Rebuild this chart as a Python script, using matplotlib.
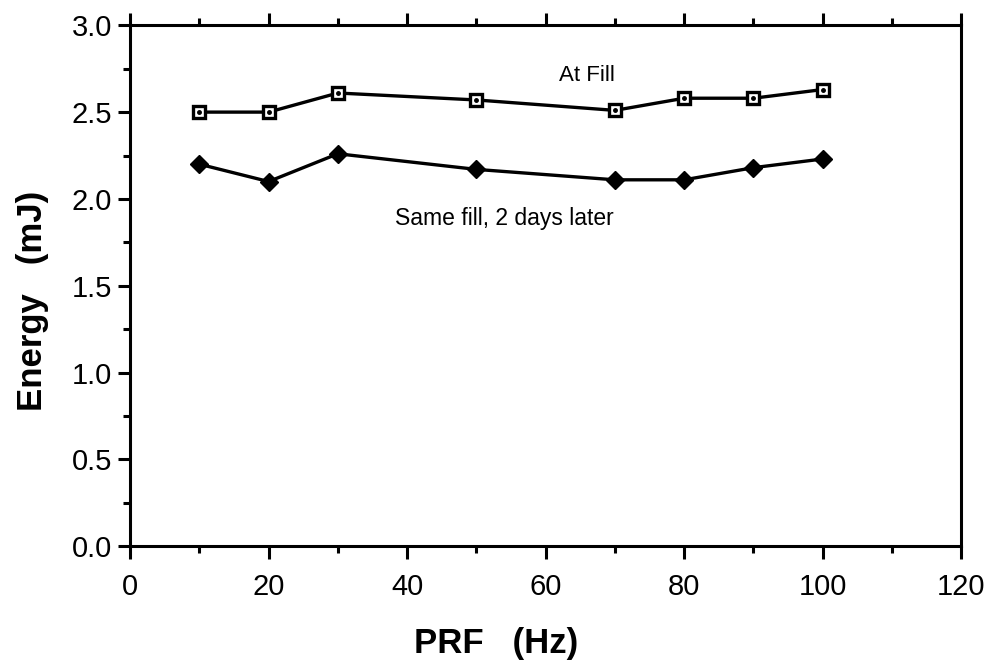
import matplotlib
matplotlib.use("Agg")
import matplotlib.pyplot as plt
from matplotlib.ticker import MultipleLocator, FormatStrFormatter

plt.rcParams["font.family"] = ["Liberation Sans", "DejaVu Sans"]

prf = [10, 20, 30, 50, 70, 80, 90, 100]
at_fill = [2.50, 2.50, 2.61, 2.57, 2.51, 2.58, 2.58, 2.63]
two_days = [2.20, 2.10, 2.26, 2.17, 2.11, 2.11, 2.18, 2.23]

fig = plt.figure(figsize=(9.93, 6.66), dpi=100)
ax = fig.add_axes([0.131, 0.18, 0.837, 0.782])

ax.plot(prf, at_fill, color="black", lw=2.4, marker="s", ms=9, mfc="white",
        mec="black", mew=2.4)
ax.plot(prf, at_fill, ls="none", marker="o", ms=2.5, color="black")
ax.plot(prf, two_days, color="black", lw=2.4, marker="D", ms=9.5, mfc="black",
        mec="black")

ax.text(66, 2.71, "At Fill", fontsize=16, ha="center", va="center")
ax.text(54, 1.89, "Same fill, 2 days later", fontsize=16.5, ha="center", va="center")

ax.set_xlim(0, 120)
ax.set_ylim(0, 3.0)
ax.xaxis.set_major_locator(MultipleLocator(20))
ax.xaxis.set_minor_locator(MultipleLocator(10))
ax.yaxis.set_major_locator(MultipleLocator(0.5))
ax.yaxis.set_minor_locator(MultipleLocator(0.25))
ax.yaxis.set_major_formatter(FormatStrFormatter("%.1f"))

ax.tick_params(axis="both", which="major", direction="out", length=9, width=2.2,
               labelsize=21, top=True, right=False)
ax.tick_params(axis="x", which="major", pad=10)
ax.tick_params(axis="y", which="major", pad=4)
ax.tick_params(axis="both", which="minor", direction="out", length=5, width=2.2,
               top=True, right=False)
for s in ax.spines.values():
    s.set_linewidth(2.2)

ax.set_xlabel("PRF   (Hz)", fontsize=25, fontweight="bold")
ax.set_ylabel("Energy   (mJ)", fontsize=25, fontweight="bold")
ax.xaxis.set_label_coords(0.44, -0.155)
ax.yaxis.set_label_coords(-0.098, 0.47)

fig.savefig("out.png", dpi=100)
